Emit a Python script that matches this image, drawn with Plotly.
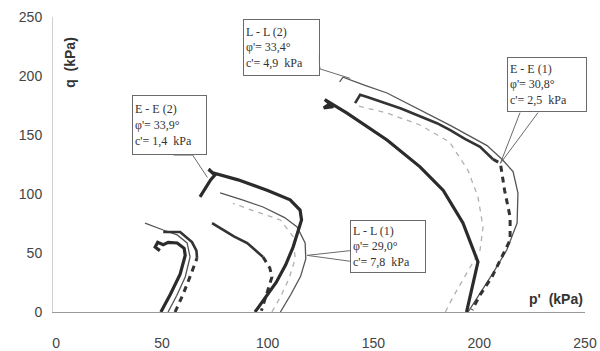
import plotly.graph_objects as go

# ---------------- data (p', q in kPa) ----------------
# Group 1 (p0 ~ 50 kPa)
g1_thick_p = [49.5, 54, 58.6, 61, 60.5, 57.2, 53, 50.6, 48, 46.8, 49, 47.5]
g1_thick_q = [0, 15, 32, 48, 54, 58.5, 59, 57, 59, 55, 52, 54]
g1_thin_p = [52.9, 57, 61, 63.3, 61.9, 57.2, 50.6, 42]
g1_thin_q = [0, 14, 29.7, 46.6, 58.5, 65.3, 69.5, 75.4]
g1_dsol_p = [66.6, 66.3, 64.2, 58.6, 50.6]
g1_dsol_q = [45.8, 52, 59.3, 67.8, 67.8]
g1_dash_p = [56.2, 60, 63.5, 66.6]
g1_dash_q = [0, 15, 31, 45.8]

# Group 2 (p0 ~ 95-105 kPa)
g2_thick_p = [94, 99, 104, 108.5, 112, 116, 115.3, 110.6, 100, 86, 77.5, 74, 72, 75, 73, 68]
g2_thick_q = [0, 12, 25, 40, 55, 78, 86.4, 95, 103, 112, 116, 118, 121, 116, 112, 97.5]
g2_thin_p = [106, 111, 115.5, 118, 117.7, 113.9, 108, 97.8, 88, 77.5]
g2_thin_q = [0, 15, 30, 45, 58.5, 72, 80, 89, 95, 101]
g2_dsol_p = [73.7, 76, 79, 84, 90.3, 97.8]
g2_dsol_q = [75.4, 73, 69.5, 64, 58.5, 46.6]
g2_dash_p = [97.8, 101, 102, 100.2, 98.8, 97]
g2_dash_q = [46.6, 37.3, 29.7, 18.6, 10, 1]
g2_grey_p = [102, 106, 110, 113, 112, 106, 93, 83.6]
g2_grey_q = [0, 12.7, 28, 45, 64, 78, 86, 92]

# Group 3 (p0 ~ 195 kPa)
g3_thick_p = [194, 196.6, 199.4, 192.3, 183, 172, 156.4, 137.5, 129.5, 127, 131, 126.5, 130]
g3_thick_q = [0, 21, 42.4, 75.4, 103, 123, 145.8, 168.6, 177, 180, 174, 173, 177]
g3_thin_p = [194.7, 200.4, 206.5, 213, 217.9, 218.3, 216, 211, 203.7, 186.5, 168, 156.4, 146, 139, 135.6, 134]
g3_thin_q = [0, 16, 33, 52.5, 75.4, 100.8, 119, 129, 141, 158, 175, 185.6, 192, 197, 199, 195]
g3_dsol_p = [141.3, 143.7, 147.4, 163, 180, 186.5, 193, 200.4, 206.5]
g3_dsol_q = [177, 184, 182, 172.5, 160, 154, 147, 140, 129.5]
g3_dash_p = [206.5, 210, 212, 214.6, 214.6, 210.8, 206, 200.4, 196.6]
g3_dash_q = [129.5, 126, 103, 80.5, 61, 46.6, 29.7, 14.4, 1.7]
g3_grey_p = [184, 187.6, 200.4, 201.8, 199.4, 194.7, 186, 172, 156.4, 142]
g3_grey_q = [0, 12.7, 52.5, 72, 97.5, 120, 144, 158.5, 168.6, 175]

x_ticks = [0, 50, 100, 150, 200, 250]
y_ticks = [0, 50, 100, 150, 200, 250]

labels = [
    "E - E (2)<br>φ'= 33,9°<br>c'= 1,4  kPa",
    "L - L (2)<br>φ'= 33,4°<br>c'= 4,9  kPa",
    "E - E (1)<br>φ'= 30,8°<br>c'= 2,5  kPa",
    "L - L (1)<br>φ'= 29,0°<br>c'= 7,8  kPa",
]

# ---------------- figure ----------------
THICK = dict(color="#2b2b2b", width=3.2)
THIN = dict(color="#555555", width=1.3)
DASH = dict(color="#333333", width=3, dash="6px,5px")
GREY = dict(color="#b0b0b0", width=1.3, dash="5px,5px")

fig = go.Figure()

def add(p, q, line):
    fig.add_trace(go.Scatter(x=p, y=q, mode="lines", line=line,
                             hoverinfo="skip", showlegend=False))

add(g3_grey_p, g3_grey_q, GREY)
add(g2_grey_p, g2_grey_q, GREY)
for p, q in [(g1_thin_p, g1_thin_q), (g2_thin_p, g2_thin_q), (g3_thin_p, g3_thin_q)]:
    add(p, q, THIN)
for p, q in [(g1_dash_p, g1_dash_q), (g2_dash_p, g2_dash_q), (g3_dash_p, g3_dash_q)]:
    add(p, q, DASH)
for p, q in [(g1_dsol_p, g1_dsol_q), (g2_dsol_p, g2_dsol_q), (g3_dsol_p, g3_dsol_q)]:
    add(p, q, dict(color="#333333", width=2.6))
for p, q in [(g1_thick_p, g1_thick_q), (g2_thick_p, g2_thick_q), (g3_thick_p, g3_thick_q)]:
    add(p, q, THICK)

# callout boxes: (left p, top q, width px, height px, text, pointer path)
boxes = [
    (35.8, 184, 75, 60, labels[0], [(55.5, 133), (64.5, 133), (71.5, 114)]),
    (88.3, 248, 77, 57, labels[1], [(123.8, 219), (124.7, 206), (139, 198)]),
    (213.2, 216, 80, 55, labels[2], [(219.3, 169), (210, 126), (227.8, 169)]),
    (139.0, 78, 76, 53, labels[3], [(139.0, 52), (118.6, 48), (139.0, 43)]),
]
for (bx, by, w, h, txt, ptr) in boxes:
    (x1, y1), (x2, y2), (x3, y3) = ptr
    fig.add_shape(type="path", xref="x", yref="y",
                  path=f"M {x1} {y1} L {x2} {y2} L {x3} {y3}",
                  line=dict(color="#6a6a6a", width=1))
    fig.add_annotation(x=bx, y=by, xref="x", yref="y", xanchor="left", yanchor="top",
                       text=txt, showarrow=False, align="left",
                       width=w - 6, height=h - 6, valign="middle",
                       bordercolor="#6a6a6a", borderwidth=1, borderpad=2,
                       bgcolor="rgba(255,255,255,0.9)",
                       font=dict(family="Liberation Serif", size=12, color="#333"))

fig.add_annotation(x=6.5, y=212, xref="x", yref="y", text="<b>q  (kPa)</b>", textangle=-90,
                   showarrow=False, font=dict(family="Liberation Sans", size=14, color="#333"))
fig.add_annotation(x=250, y=11, xref="x", yref="y", xanchor="right", text="<b>p'  (kPa)</b>",
                   showarrow=False, font=dict(family="Liberation Sans", size=14, color="#333"))

fig.update_layout(
    width=600, height=351,
    margin=dict(l=53, r=15, t=17, b=39, autoexpand=False),
    paper_bgcolor="white", plot_bgcolor="white",
    font=dict(family="Liberation Sans", size=13, color="#444"),
)
fig.update_xaxes(range=[-1.5, 250], tickvals=x_ticks, showgrid=False, zeroline=False,
                 showline=True, linecolor="#9a9a9a", linewidth=1, automargin=False,
                 ticks="", ticklabelstandoff=18, ticklabeloverflow="allow",
                 tickfont=dict(size=14))
fig.update_yaxes(range=[0, 250], tickvals=y_ticks, showgrid=False, zeroline=False,
                 showline=True, linecolor="#d0d0d0", linewidth=1, automargin=False,
                 ticks="", ticklabelstandoff=7, tickfont=dict(size=14))

# remove the default page margin so the 600x351 figure fills the window exactly
fig.write_html("out.html", config={"displayModeBar": False},
               post_script="document.body.style.margin='0';document.body.style.overflow='hidden';")
